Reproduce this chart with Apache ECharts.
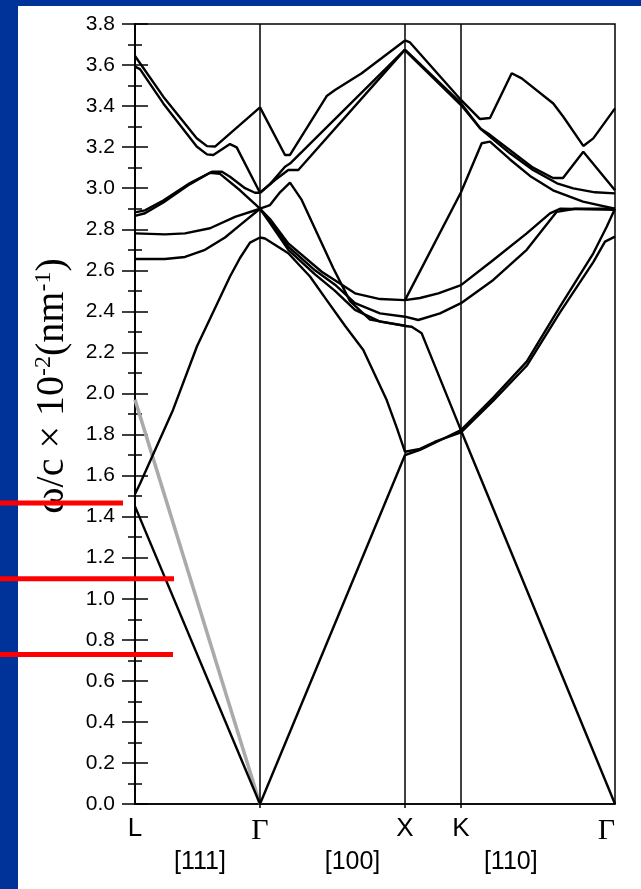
<!DOCTYPE html>
<html>
<head>
<meta charset="utf-8">
<script src="https://cdn.jsdelivr.net/npm/echarts@6/dist/echarts.min.js"></script>
<style>
  html, body { margin: 0; padding: 0; background: #003399; }
  #bandChart { width: 641px; height: 889px; }
</style>
</head>
<body>
<div id="bandChart"></div>
<script>
  // k-path: symmetry points and their position along the path
  var kPoints = [0, 1.25, 2.70, 3.26, 4.80];
  var kLabels = ['L', 'Γ', 'X', 'K', 'Γ'];
  var dirPos = [0.65, 2.175, 3.758];
  var dirLabels = ['[111]', '[100]', '[110]'];
  // red marker levels (ω/c) and where each marker stops along k
  var redLevels = [1.466, 1.097, 0.728];
  var redEnds = [-0.12, 0.39, 0.38];
  // light line
  var lightLine = [[0, 1.97], [1.25, 0]];

  // L - Γ
  var lg1 = [[0, 1.45], [1.25, 0]];
  var lg2 = [[0, 1.51], [0.05, 1.56], [0.38, 1.92], [0.62, 2.23], [0.95, 2.57], [1.05, 2.66], [1.15, 2.735], [1.25, 2.76]];
  var lg3 = [[0, 2.655], [0.3, 2.655], [0.5, 2.665], [0.7, 2.70], [0.9, 2.76], [1.05, 2.82], [1.25, 2.90]];
  var lg4 = [[0, 2.78], [0.3, 2.775], [0.5, 2.78], [0.75, 2.805], [1.0, 2.86], [1.25, 2.90]];
  var lg5 = [[0, 2.865], [0.1, 2.878], [0.283, 2.93], [0.55, 3.02], [0.75, 3.075], [0.85, 3.07], [1.05, 2.99], [1.25, 2.90]];
  var lg6 = [[0, 2.882], [0.1, 2.892], [0.283, 2.94], [0.55, 3.025], [0.77, 3.08], [0.87, 3.08], [0.95, 3.056], [1.1, 3.0], [1.2, 2.978], [1.25, 2.978]];
  var lg7 = [[0, 3.592], [0.05, 3.58], [0.283, 3.413], [0.617, 3.203], [0.72, 3.165], [0.783, 3.162], [0.95, 3.215], [1.017, 3.199], [1.25, 2.978]];
  var lg8 = [[0, 3.644], [0.283, 3.446], [0.617, 3.243], [0.72, 3.205], [0.80, 3.203], [1.25, 3.394]];

  // Γ - X
  var gx0 = [[1.25, 0], [2.70, 1.70]];
  var gxS = [[1.25, 2.76], [1.30, 2.755], [1.533, 2.683], [1.75, 2.57], [1.917, 2.455], [2.1, 2.33], [2.283, 2.212], [2.517, 1.968], [2.62, 1.83], [2.70, 1.716]];
  var gxP = [[1.25, 2.90], [1.35, 2.85], [1.533, 2.731], [1.867, 2.593], [2.20, 2.488], [2.45, 2.46], [2.70, 2.455]];
  var gxQ = [[1.25, 2.90], [1.35, 2.84], [1.533, 2.715], [1.8, 2.60], [2.0, 2.53], [2.2, 2.44], [2.45, 2.39], [2.70, 2.374]];
  var gxR = [[1.25, 2.90], [1.35, 2.83], [1.533, 2.70], [1.8, 2.58], [2.0, 2.50], [2.2, 2.407], [2.45, 2.35], [2.70, 2.329]];
  var gxT = [[1.25, 2.90], [1.35, 2.918], [1.45, 2.98], [1.55, 3.027], [1.667, 2.943], [1.983, 2.61], [2.15, 2.45], [2.35, 2.36], [2.70, 2.33]];
  var gxA = [[1.25, 2.978], [1.35, 3.02], [1.50, 3.105], [1.55, 3.12], [2.70, 3.675]];
  var gxB = [[1.25, 2.978], [1.40, 3.04], [1.533, 3.089], [1.633, 3.089], [2.70, 3.675]];
  var gxU = [[1.25, 3.394], [1.50, 3.162], [1.55, 3.162], [1.917, 3.449], [2.0, 3.478], [2.267, 3.56], [2.70, 3.72]];

  // X - K
  var xkU1 = [[2.70, 3.72], [2.75, 3.71], [3.26, 3.43]];
  var xkU2 = [[2.70, 3.675], [3.26, 3.414]];
  var xkU3 = [[2.70, 3.672], [3.26, 3.405]];
  var xkP = [[2.70, 2.455], [2.85, 2.465], [3.033, 2.488], [3.26, 2.528]];
  var xkQ = [[2.70, 2.374], [2.833, 2.358], [3.05, 2.39], [3.26, 2.44]];
  var xkR = [[2.70, 2.329], [2.767, 2.325], [2.867, 2.293], [3.26, 1.82]];
  var xkW = [[2.70, 2.455], [3.26, 2.98]];
  var xkV1 = [[2.70, 1.70], [2.85, 1.725], [3.0, 1.76], [3.26, 1.822]];
  var xkV2 = [[2.70, 1.716], [2.85, 1.73], [3.0, 1.765], [3.26, 1.81]];

  // K - Γ
  var kgU1 = [[3.26, 3.43], [3.45, 3.337], [3.55, 3.342], [3.767, 3.56], [3.867, 3.535], [4.183, 3.413], [4.283, 3.348], [4.483, 3.206], [4.583, 3.243], [4.80, 3.389]];
  var kgU2 = [[3.26, 3.414], [3.45, 3.292], [3.55, 3.26], [3.98, 3.10], [4.18, 3.05], [4.28, 3.05], [4.483, 3.178], [4.80, 2.99]];
  var kgU3 = [[3.26, 3.405], [3.467, 3.284], [3.75, 3.17], [3.98, 3.089], [4.22, 3.024], [4.383, 2.999], [4.60, 2.98], [4.80, 2.975]];
  var kgW = [[3.26, 2.98], [3.467, 3.219], [3.55, 3.227], [3.75, 3.14], [3.95, 3.06], [4.18, 2.99], [4.48, 2.935], [4.80, 2.90]];
  var kgP = [[3.26, 2.528], [3.583, 2.65], [3.917, 2.78], [4.15, 2.877], [4.25, 2.90], [4.80, 2.895]];
  var kgQ = [[3.26, 2.44], [3.583, 2.553], [3.917, 2.70], [4.217, 2.885], [4.40, 2.90], [4.80, 2.90]];
  var kgR = [[3.26, 1.82], [4.80, 0]];
  var kgV1 = [[3.26, 1.822], [3.583, 1.98], [3.917, 2.155], [4.25, 2.423], [4.583, 2.683], [4.717, 2.812], [4.80, 2.90]];
  var kgV2 = [[3.26, 1.81], [3.583, 1.965], [3.917, 2.135], [4.25, 2.395], [4.583, 2.64], [4.70, 2.74], [4.80, 2.764]];

  var bands = [lg1, lg2, lg3, lg4, lg5, lg6, lg7, lg8,
    gx0, gxS, gxP, gxQ, gxR, gxT, gxA, gxB, gxU,
    xkU1, xkU2, xkU3, xkP, xkQ, xkR, xkW, xkV1, xkV2,
    kgU1, kgU2, kgU3, kgW, kgP, kgQ, kgR, kgV1, kgV2];

  var chart = echarts.init(document.getElementById('bandChart'));

  var series = [{
    type: 'line',
    data: lightLine,
    showSymbol: false,
    silent: true,
    z: 1,
    lineStyle: { color: '#aaaaaa', width: 3.5 },
    markLine: {
      silent: true,
      symbol: ['none', 'none'],
      label: { show: false },
      lineStyle: { color: '#000', width: 1.5, type: 'solid' },
      data: kPoints.slice(1, 4).map(function (k) { return { xAxis: k }; })
    }
  }];
  bands.forEach(function (b) {
    series.push({
      type: 'line',
      data: b,
      showSymbol: false,
      silent: true,
      z: 3,
      lineStyle: { color: '#000', width: 2.4 }
    });
  });

  var option = {
    backgroundColor: '#003399',
    animation: false,
    grid: {
      left: 135, right: 26, top: 24, bottom: 85,
      show: true, borderColor: '#000', borderWidth: 1.5, backgroundColor: 'transparent'
    },
    xAxis: [{
      type: 'value', min: 0, max: 4.8,
      axisLine: { lineStyle: { color: '#000', width: 1.5 } },
      splitLine: { show: false },
      axisTick: { show: true, customValues: [1.25, 2.70, 3.26], length: 4, lineStyle: { color: '#000', width: 1.5 } },
      axisLabel: {
        customValues: kPoints,
        margin: 12,
        alignMaxLabel: 'right',
        formatter: function (v) {
          var i = kPoints.indexOf(v);
          var t = kLabels[i];
          return t === 'Γ' ? '{g|' + t + '}' : '{s|' + t + '}';
        },
        rich: {
          s: { fontFamily: 'Liberation Sans', fontSize: 26, color: '#000' },
          g: { fontFamily: 'Liberation Serif', fontSize: 30, color: '#000' }
        }
      }
    }, {
      type: 'value', min: 0, max: 4.8, position: 'bottom',
      axisLine: { show: false }, axisTick: { show: false }, splitLine: { show: false },
      axisLabel: {
        customValues: dirPos,
        margin: 46,
        fontFamily: 'Liberation Sans', fontSize: 25, color: '#000',
        formatter: function (v) { return dirLabels[dirPos.indexOf(v)]; }
      }
    }],
    yAxis: [{
      type: 'value', min: 0, max: 3.8, interval: 0.2,
      axisLine: { show: true, lineStyle: { color: '#000', width: 1.5 } },
      splitLine: { show: false },
      axisTick: { show: true, inside: true, length: 13, lineStyle: { color: '#000', width: 1.5 } },
      minorTick: { show: true, splitNumber: 2, length: 7, lineStyle: { color: '#000', width: 1.5 } },
      axisLabel: {
        margin: 20, fontFamily: 'Liberation Sans', fontSize: 21, color: '#000',
        formatter: function (v) { return v.toFixed(1); }
      }
    }, {
      type: 'value', min: 0, max: 3.8, interval: 0.2, position: 'right',
      axisLine: { show: true, lineStyle: { color: '#000', width: 1.5 } },
      splitLine: { show: false },
      axisTick: { show: true, inside: true, length: 13, lineStyle: { color: '#000', width: 1.5 } },
      minorTick: { show: true, splitNumber: 2, length: 7, lineStyle: { color: '#000', width: 1.5 } },
      axisLabel: { show: false }
    }],
    graphic: [{
      id: 'paper', type: 'rect', z: -100, silent: true,
      shape: { x: 18, y: 6, width: 623, height: 883 },
      style: { fill: '#fff' }
    }, {
      id: 'yname', type: 'text', x: 52, y: 386, rotation: Math.PI / 2, silent: true,
      style: {
        text: '{a|ω/c × 10}{s|-2}{a|(nm}{s|-1}{a|)}',
        align: 'center', verticalAlign: 'middle',
        rich: {
          a: { fontFamily: 'Liberation Serif', fontSize: 40, lineHeight: 40, fill: '#000' },
          s: { fontFamily: 'Liberation Serif', fontSize: 24, lineHeight: 24, verticalAlign: 'top', fill: '#000' }
        }
      }
    }],
    series: series
  };
  chart.setOption(option);

  // red marker bars, placed through the axes
  var redGraphics = redLevels.map(function (lvl, i) {
    var end = chart.convertToPixel({ gridIndex: 0 }, [redEnds[i], lvl]);
    return {
      id: 'red' + i, type: 'line', z: 100, silent: true,
      shape: { x1: 0, y1: end[1], x2: end[0], y2: end[1] },
      style: { stroke: '#ff0000', lineWidth: 5 }
    };
  });
  chart.setOption({ graphic: redGraphics });
</script>
</body>
</html>
